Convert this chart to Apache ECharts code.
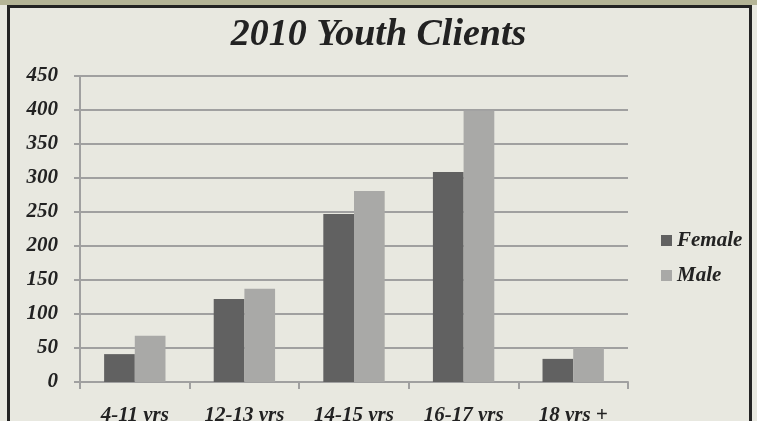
<!DOCTYPE html>
<html>
<head>
<meta charset="utf-8">
<script src="https://cdn.jsdelivr.net/npm/echarts@6/dist/echarts.min.js"></script>
<style>
  html, body { margin: 0; padding: 0; background: #e8e8e0; }
  #chart { position: absolute; left: 0; top: 0; width: 757px; height: 421px; }
  .band { position: absolute; left: 0; top: 0; width: 757px; height: 5px; background: #b4b496; }
  .frame {
    position: absolute; left: 7px; top: 5px; width: 739px; height: 420px;
    border-left: 3px solid #232323; border-right: 3px solid #232323; border-top: 3px solid #232323;
    pointer-events: none;
  }
</style>
</head>
<body>
<div id="chart"></div>
<div class="band"></div>
<div class="frame"></div>
<script>
const categories = ['4-11 yrs', '12-13 yrs', '14-15 yrs', '16-17 yrs', '18 yrs +']
const female = [41, 122, 247, 309, 34]
const male = [68, 137, 281, 399, 50]

const textFont = { fontFamily: 'Liberation Serif', fontStyle: 'italic', fontWeight: 'bold', color: '#222' }

const chart = echarts.init(document.getElementById('chart'))
chart.setOption({
  backgroundColor: '#e8e8e0',
  animation: false,
  title: {
    text: '2010 Youth Clients',
    left: 'center',
    top: 11,
    textStyle: { ...textFont, fontSize: 38 }
  },
  legend: {
    orient: 'vertical',
    left: 656,
    top: 225,
    itemWidth: 11,
    itemHeight: 11,
    itemGap: 14,
    icon: 'rect',
    textStyle: { ...textFont, fontSize: 21 },
    data: ['Female', 'Male']
  },
  grid: { left: 80, right: 129, top: 76, bottom: 39, outerBoundsMode: 'none' },
  xAxis: {
    type: 'category',
    data: categories,
    axisLine: { lineStyle: { color: '#a0a0a0', width: 2 } },
    axisTick: { show: true, length: 7, lineStyle: { color: '#a0a0a0', width: 2 } },
    axisLabel: { ...textFont, fontSize: 21, margin: 23 }
  },
  yAxis: {
    type: 'value',
    min: 0,
    max: 450,
    interval: 50,
    axisLine: { show: true, lineStyle: { color: '#a0a0a0', width: 2 } },
    axisTick: { show: true, length: 6, lineStyle: { color: '#a0a0a0', width: 2 } },
    splitLine: { lineStyle: { color: '#a0a0a0', width: 2 } },
    axisLabel: { ...textFont, fontSize: 21, margin: 22 }
  },
  series: [
    {
      name: 'Female',
      type: 'bar',
      data: female,
      barGap: '0%',
      barCategoryGap: '44%',
      itemStyle: { color: '#616161' }
    },
    {
      name: 'Male',
      type: 'bar',
      data: male,
      itemStyle: { color: '#a9a9a7' }
    }
  ]
})
</script>
</body>
</html>
